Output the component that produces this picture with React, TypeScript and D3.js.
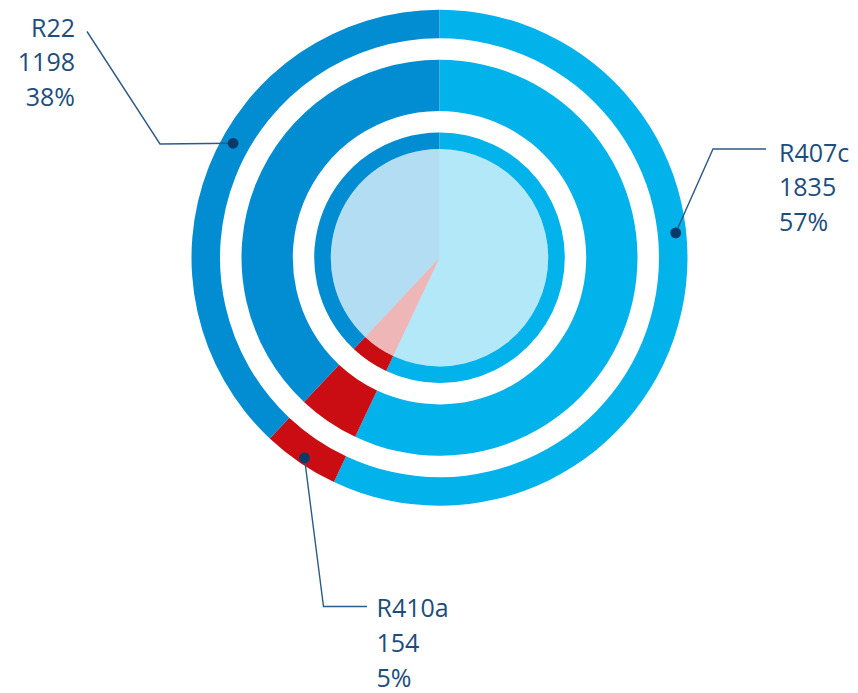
import React from "react";
import * as d3 from "d3";

// Refrigerant quantities and their shares
const refrigerants = ["R407c", "R410a", "R22"];
const amounts = [1835, 154, 1198];
const shares = [57, 5, 38];
const colors = ["#02b2ea", "#c90d12", "#028dd3"];

const W = 858;
const H = 693;
const cx = 439.5;
const cy = 257.7;

// concentric ring radii [inner, outer]
const rings: [number, number][] = [
  [219.5, 248],
  [146.7, 198],
  [108.7, 125.3],
];
const coreRadius = 108.7;

// callout layout per series: anchor angle (deg, clockwise from top), anchor radius, elbow and text placement
const callouts = [
  { angle: 84, r: 237.5, path: (p: [number, number]) => [p, [713, 149], [766, 149]], tx: 779, ty: 161.5, anchor: "start" },
  { angle: 214, r: 241.5, path: (p: [number, number]) => [p, [323.5, 606.5], [367, 606.5]], tx: 376.5, ty: 617, anchor: "start" },
  { angle: 299, r: 236, path: (p: [number, number]) => [p, [160, 144], [87, 31.5]], tx: 75, ty: 36.5, anchor: "end" },
];

export default function App() {
  const pie = d3
    .pie<number>()
    .sort(null)
    .startAngle(0)
    .endAngle(2 * Math.PI)
    .value((d) => d);
  const slices = pie(shares);

  const arcFor = (r0: number, r1: number) =>
    d3.arc<d3.PieArcDatum<number>>().innerRadius(r0).outerRadius(r1);

  const line = d3.line();

  return (
    <div style={{ position: "absolute", left: 0, top: 0 }}>
      <svg width={W} height={H} style={{ display: "block" }}>
        <rect width={W} height={H} fill="#ffffff" />
        <g transform={`translate(${cx},${cy})`}>
          {rings.map(([r0, r1], ri) => (
            <g key={ri}>
              {slices.map((s, i) => (
                <path key={i} d={arcFor(r0, r1)(s) || ""} fill={colors[i]} />
              ))}
            </g>
          ))}
          {slices.map((s, i) => (
            <path
              key={"core" + i}
              d={arcFor(0, coreRadius)(s) || ""}
              fill={colors[i]}
              fillOpacity={0.3}
            />
          ))}
        </g>
        {callouts.map((c, i) => {
          const a = (c.angle * Math.PI) / 180;
          const p: [number, number] = [
            cx + c.r * Math.sin(a),
            cy - c.r * Math.cos(a),
          ];
          const pts = c.path(p) as [number, number][];
          const lines = [refrigerants[i], String(amounts[i]), `${shares[i]}%`];
          return (
            <g key={"c" + i}>
              <path d={line(pts) || ""} fill="none" stroke="#2d5b88" strokeWidth={1.4} />
              <circle cx={p[0]} cy={p[1]} r={5.4} fill="#0b3a6a" />
              {lines.map((t, j) => (
                <text
                  key={j}
                  x={c.tx}
                  y={c.ty + j * 34.8}
                  textAnchor={c.anchor as any}
                  fontFamily="'Open Sans', sans-serif"
                  fontSize={25}
                  fill="#1d4d7c"
                >
                  {t}
                </text>
              ))}
            </g>
          );
        })}
      </svg>
    </div>
  );
}
